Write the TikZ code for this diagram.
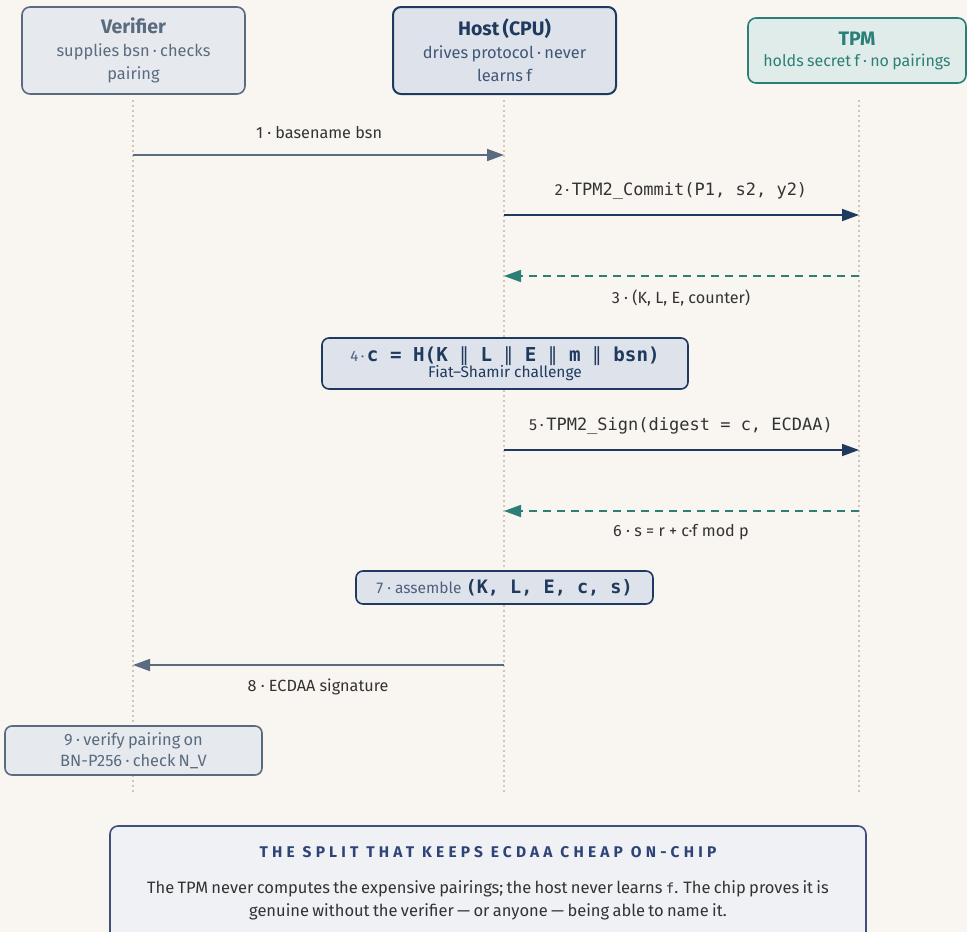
\documentclass[tikz,border=0pt]{standalone}
\usepackage{fontspec}
\setmainfont{Fira Sans}
\setmonofont{DejaVu Sans Mono}
\newfontfamily\symfont{DejaVu Sans}
\usetikzlibrary{arrows.meta}

\definecolor{bg}{HTML}{F9F6F1}
\definecolor{slate}{HTML}{5A6B80}
\definecolor{slatefill}{HTML}{E6EAEE}
\definecolor{navy}{HTML}{1F3A5F}
\definecolor{navyfill}{HTML}{DEE2EB}
\definecolor{teal}{HTML}{2B7F77}
\definecolor{tealfill}{HTML}{E0ECEA}
\definecolor{lifeline}{HTML}{CEC7B9}
\definecolor{ink}{HTML}{333333}
\definecolor{notefill}{HTML}{F0F1F5}
\definecolor{noteedge}{HTML}{3F4F7E}
\definecolor{notetitle}{HTML}{2E4478}

% font size helper: size and baseline skip in pt
\newcommand{\fsz}[2]{\fontsize{#1pt}{#2pt}\selectfont}
% concatenation bar, set in a family that has the glyph
\newcommand{\cat}{{\symfont\mdseries ∥}}

\tikzset{
  actorbox/.style={rounded corners=8pt, line width=1.6pt, align=center, inner sep=0pt},
  notebox/.style={rounded corners=7pt, line width=1.6pt, align=center, inner sep=0pt},
  life/.style={lifeline, line width=1.1pt, dash pattern=on 1.6pt off 3.4pt},
  msg/.style={line width=1.8pt, -{Triangle[length=17pt,width=12pt]}},
  reply/.style={msg, dash pattern=on 8pt off 6pt},
  lbl/.style={text=ink, inner sep=0pt, font=\fsz{16.2}{19}},
  code/.style={text=ink, inner sep=0pt, font=\fsz{17}{20}}
}

\begin{document}
\begin{tikzpicture}[x=1pt,y=-1pt]
\fill[bg] (0,0) rectangle (967,932);
\useasboundingbox (0,0) rectangle (967,932);

% participants
\node[actorbox, draw=slate, fill=slatefill, minimum width=223, minimum height=87, text width=215, text=slate] (ver) at (133.5,50.5)
  {{\fsz{19.5}{24}\bfseries Verifier\par}{\fsz{16.4}{23}supplies bsn · checks\\pairing\par}};
\node[actorbox, draw=navy, fill=navyfill, minimum width=223, minimum height=87, line width=2pt, text width=215, text=navy] (host) at (504.5,50.5)
  {{\fsz{19.5}{24}\bfseries Host (CPU)\par}{\fsz{16.4}{23}\color{navy!85!white}drives protocol · never\\learns f\par}};
\node[actorbox, draw=teal, fill=tealfill, minimum width=218, minimum height=65, text width=216, text=teal] (tpm) at (857,50.5)
  {{\fsz{19.5}{24}\bfseries TPM\par}{\fsz{16}{21}holds secret f · no pairings\par}};

% lifelines
\coordinate (vtop) at (133,100);  \coordinate (vbot) at (133,793);
\coordinate (htop) at (504,100);  \coordinate (hbot) at (504,793);
\coordinate (ttop) at (859,100);  \coordinate (tbot) at (859,793);
\draw[life] (vtop) -- (vbot);
\draw[life] (htop) -- (hbot);
\draw[life] (ttop) -- (tbot);

% 1: verifier -> host
\coordinate (m1a) at (133,155); \coordinate (m1b) at (504,155);
\draw[msg, slate] (m1a) -- (m1b);
\node[lbl] (l1) at (319,133) {1 · basename bsn};

% 2: host -> tpm
\coordinate (m2a) at (504,215); \coordinate (m2b) at (859,215);
\draw[msg, navy] (m2a) -- (m2b);
\node[code] (l2) at (681,191) {{\fsz{16}{20}2\,·\,}\texttt{TPM2\_Commit(P1, s2, y2)}};

% 3: tpm -> host
\coordinate (m3a) at (859,276); \coordinate (m3b) at (504,276);
\draw[reply, teal] (m3a) -- (m3b);
\node[lbl] (l3) at (681,298) {3 · (K, L, E, counter)};

% 4: challenge
\node[notebox, draw=navy, fill=navyfill, minimum width=366, minimum height=51, text=navy] (c4) at (505,363.5)
  {{\fsz{15}{22}\color{navy!80!white}4\,·\,}{\fsz{19.2}{22}\ttfamily\bfseries c = H(K \cat{} L \cat{} E \cat{} m \cat{} bsn)}\\[-1pt]
   {\fsz{15.5}{17}Fiat–Shamir challenge}};

% 5: host -> tpm
\coordinate (m5a) at (504,450); \coordinate (m5b) at (859,450);
\draw[msg, navy] (m5a) -- (m5b);
\node[code] (l5) at (681,426) {{\fsz{16}{20}5\,·\,}\texttt{TPM2\_Sign(digest = c, ECDAA)}};

% 6: tpm -> host
\coordinate (m6a) at (859,511); \coordinate (m6b) at (504,511);
\draw[reply, teal] (m6a) -- (m6b);
\node[lbl] (l6) at (681,532) {6 · s = r + c·f mod p};

% 7: assemble
\node[notebox, draw=navy, fill=navyfill, minimum width=297, minimum height=33, text=navy] (a7) at (504.5,587.5)
  {{\fsz{15.5}{18}\color{navy!80!white}7 · assemble }{\fsz{18.5}{22}\ttfamily\bfseries (K, L, E, c, s)}};

% 8: host -> verifier
\coordinate (m8a) at (504,665); \coordinate (m8b) at (133,665);
\draw[msg, slate] (m8a) -- (m8b);
\node[lbl] (l8) at (318,687) {8 · ECDAA signature};

% 9: verification
\node[notebox, draw=slate, fill=slatefill, minimum width=257, minimum height=49, text width=252, text=slate] (v9) at (133.5,750.5)
  {\fsz{16.4}{21}9 · verify pairing on\\BN-P256 · check N\_V\par};

% summary note
\draw[rounded corners=8pt, line width=1.6pt, draw=noteedge, fill=notefill] (110,826) rectangle (866,950);
\node[inner sep=0pt, text=notetitle, font=\fsz{15.5}{18}\bfseries\addfontfeatures{LetterSpace=27}] (ntitle) at (488,852)
  {THE SPLIT THAT KEEPS ECDAA CHEAP ON-CHIP};
\node[inner sep=0pt, align=center, text width=745, text=ink] (nbody) at (488,900)
  {\fsz{16.5}{23}The TPM never computes the expensive pairings; the host never learns {\ttfamily\fsz{14}{23}f}. The chip proves it is\\
   genuine without the verifier — or anyone — being able to name it.\par};
\end{tikzpicture}
\end{document}
